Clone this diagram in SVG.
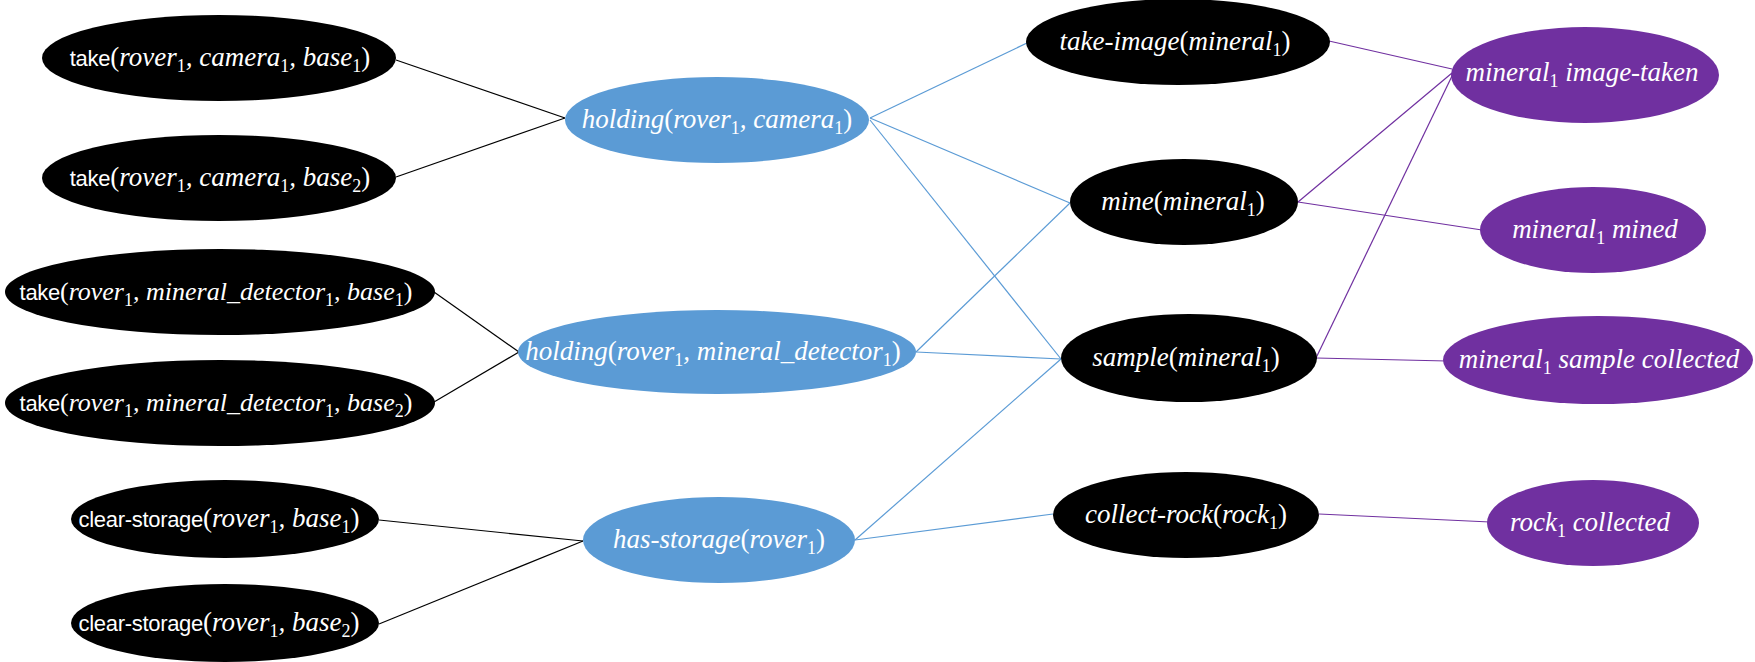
<svg xmlns="http://www.w3.org/2000/svg" width="1755" height="662" viewBox="0 0 1755 662">
<style>
.bk{fill:#000}
.bl{fill:#5b9bd5}
.pu{fill:#7030a0}
.t{fill:#fff;font-family:"Liberation Serif",serif;font-style:italic;font-size:27px;text-anchor:middle}
.n{font-size:26px}
.u{font-family:"Liberation Sans Narrow","Liberation Sans",sans-serif;font-style:normal;font-size:22px;letter-spacing:-0.3px}
.p{font-style:normal}
.s{font-style:normal;font-size:18px}
.lk{stroke:#000;stroke-width:1.2;fill:none}
.lb{stroke:#5b9bd5;stroke-width:1.2;fill:none}
.lp{stroke:#7030a0;stroke-width:1.2;fill:none}
</style>
<g id="connectors">
<line class="lk" x1="396" y1="60" x2="565" y2="118"/>
<line class="lk" x1="396" y1="177" x2="565" y2="118"/>
<line class="lk" x1="434" y1="292" x2="519" y2="352"/>
<line class="lk" x1="434" y1="402" x2="519" y2="352"/>
<line class="lk" x1="379" y1="520" x2="583" y2="541"/>
<line class="lk" x1="379" y1="624" x2="583" y2="541"/>
<line class="lb" x1="870" y1="118" x2="1027" y2="43"/>
<line class="lb" x1="870" y1="118" x2="1070" y2="203"/>
<line class="lb" x1="870" y1="120" x2="1061" y2="359"/>
<line class="lb" x1="916" y1="352" x2="1070" y2="203"/>
<line class="lb" x1="916" y1="352" x2="1061" y2="359"/>
<line class="lb" x1="855" y1="540" x2="1061" y2="359"/>
<line class="lb" x1="855" y1="540" x2="1053" y2="514"/>
<line class="lp" x1="1329" y1="41" x2="1452" y2="69"/>
<line class="lp" x1="1298" y1="202" x2="1452" y2="73"/>
<line class="lp" x1="1298" y1="202" x2="1482" y2="230"/>
<line class="lp" x1="1316" y1="358" x2="1452" y2="76"/>
<line class="lp" x1="1316" y1="358" x2="1447" y2="361"/>
<line class="lp" x1="1319" y1="514" x2="1490" y2="522"/>
</g>
<g id="take-c1-b1"><ellipse class="bk" cx="219" cy="58" rx="177" ry="43"/><text class="t" x="220" y="66"><tspan class="u">take</tspan><tspan class="p">(</tspan>rover<tspan class="s" dy="6">1</tspan><tspan dy="-6">, camera</tspan><tspan class="s" dy="6">1</tspan><tspan dy="-6">, base</tspan><tspan class="s" dy="6">1</tspan><tspan class="p" dy="-6">)</tspan></text></g>
<g id="take-c1-b2"><ellipse class="bk" cx="219" cy="178" rx="177" ry="43"/><text class="t" x="220" y="186"><tspan class="u">take</tspan><tspan class="p">(</tspan>rover<tspan class="s" dy="6">1</tspan><tspan dy="-6">, camera</tspan><tspan class="s" dy="6">1</tspan><tspan dy="-6">, base</tspan><tspan class="s" dy="6">2</tspan><tspan class="p" dy="-6">)</tspan></text></g>
<g id="take-md-b1"><ellipse class="bk" cx="220" cy="292" rx="215" ry="43"/><text class="t n" x="216" y="300"><tspan class="u">take</tspan><tspan class="p">(</tspan>rover<tspan class="s" dy="6">1</tspan><tspan dy="-6">, mineral_detector</tspan><tspan class="s" dy="6">1</tspan><tspan dy="-6">, base</tspan><tspan class="s" dy="6">1</tspan><tspan class="p" dy="-6">)</tspan></text></g>
<g id="take-md-b2"><ellipse class="bk" cx="220" cy="403" rx="215" ry="43"/><text class="t n" x="216" y="411"><tspan class="u">take</tspan><tspan class="p">(</tspan>rover<tspan class="s" dy="6">1</tspan><tspan dy="-6">, mineral_detector</tspan><tspan class="s" dy="6">1</tspan><tspan dy="-6">, base</tspan><tspan class="s" dy="6">2</tspan><tspan class="p" dy="-6">)</tspan></text></g>
<g id="clear-b1"><ellipse class="bk" cx="225" cy="519" rx="154" ry="39"/><text class="t" x="219" y="527"><tspan class="u">clear-storage</tspan><tspan class="p">(</tspan>rover<tspan class="s" dy="6">1</tspan><tspan dy="-6">, base</tspan><tspan class="s" dy="6">1</tspan><tspan class="p" dy="-6">)</tspan></text></g>
<g id="clear-b2"><ellipse class="bk" cx="225" cy="623" rx="154" ry="39"/><text class="t" x="219" y="631"><tspan class="u">clear-storage</tspan><tspan class="p">(</tspan>rover<tspan class="s" dy="6">1</tspan><tspan dy="-6">, base</tspan><tspan class="s" dy="6">2</tspan><tspan class="p" dy="-6">)</tspan></text></g>
<g id="holding-camera"><ellipse class="bl" cx="717" cy="120" rx="152" ry="43"/><text class="t" x="717" y="128">holding<tspan class="p">(</tspan>rover<tspan class="s" dy="6">1</tspan><tspan dy="-6">, camera</tspan><tspan class="s" dy="6">1</tspan><tspan class="p" dy="-6">)</tspan></text></g>
<g id="holding-md"><ellipse class="bl" cx="717" cy="352" rx="199" ry="42"/><text class="t" x="713" y="360">holding<tspan class="p">(</tspan>rover<tspan class="s" dy="6">1</tspan><tspan dy="-6">, mineral_detector</tspan><tspan class="s" dy="6">1</tspan><tspan class="p" dy="-6">)</tspan></text></g>
<g id="has-storage"><ellipse class="bl" cx="719" cy="540" rx="136" ry="43"/><text class="t" x="719" y="548">has-storage<tspan class="p">(</tspan>rover<tspan class="s" dy="6">1</tspan><tspan class="p" dy="-6">)</tspan></text></g>
<g id="take-image"><ellipse class="bk" cx="1178" cy="42" rx="152" ry="43"/><text class="t" x="1175" y="50">take-image<tspan class="p">(</tspan>mineral<tspan class="s" dy="6">1</tspan><tspan class="p" dy="-6">)</tspan></text></g>
<g id="mine"><ellipse class="bk" cx="1184" cy="202" rx="114" ry="43"/><text class="t" x="1183" y="210">mine<tspan class="p">(</tspan>mineral<tspan class="s" dy="6">1</tspan><tspan class="p" dy="-6">)</tspan></text></g>
<g id="sample"><ellipse class="bk" cx="1189" cy="358" rx="128" ry="44"/><text class="t" x="1186" y="366">sample<tspan class="p">(</tspan>mineral<tspan class="s" dy="6">1</tspan><tspan class="p" dy="-6">)</tspan></text></g>
<g id="collect-rock"><ellipse class="bk" cx="1186" cy="515" rx="133" ry="43"/><text class="t" x="1186" y="523">collect-rock<tspan class="p">(</tspan>rock<tspan class="s" dy="6">1</tspan><tspan class="p" dy="-6">)</tspan></text></g>
<g id="image-taken"><ellipse class="pu" cx="1585" cy="75" rx="134" ry="48"/><text class="t" x="1582" y="81">mineral<tspan class="s" dy="6">1</tspan><tspan dy="-6"> image-taken</tspan></text></g>
<g id="mined"><ellipse class="pu" cx="1593" cy="230" rx="113" ry="43"/><text class="t" x="1595" y="238">mineral<tspan class="s" dy="6">1</tspan><tspan dy="-6"> mined</tspan></text></g>
<g id="sample-collected"><ellipse class="pu" cx="1598" cy="360" rx="155" ry="44"/><text class="t" x="1599" y="368">mineral<tspan class="s" dy="6">1</tspan><tspan dy="-6"> sample collected</tspan></text></g>
<g id="rock-collected"><ellipse class="pu" cx="1593" cy="523" rx="106" ry="43"/><text class="t" x="1590" y="531">rock<tspan class="s" dy="6">1</tspan><tspan dy="-6"> collected</tspan></text></g>
</svg>
